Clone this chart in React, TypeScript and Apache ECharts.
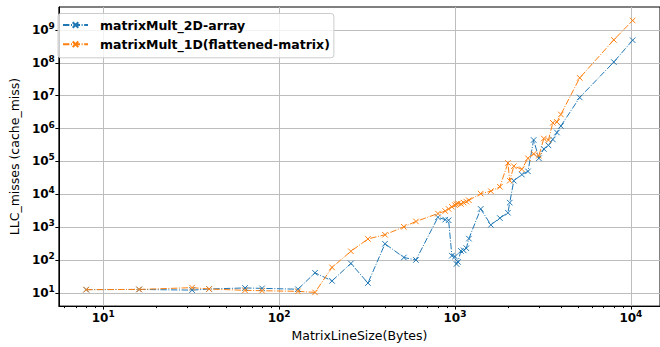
import React, { useEffect, useRef } from "react";
import * as echarts from "echarts";

const lineSizes = [8, 16, 32, 40, 64, 80, 128, 160, 200, 256, 320, 400, 512, 600, 800, 880, 920, 960, 1000, 1020, 1040, 1080, 1120, 1160, 1200, 1400, 1600, 1800, 2000, 2048, 2160, 2400, 2600, 2800, 3000, 3200, 3400, 3600, 3800, 4000, 5120, 8000, 10240];

const misses2D = [12.6, 12.8, 12.2, 13.2, 14.2, 13.8, 13, 41, 23.3, 79, 20, 313, 120, 101, 2000, 1700, 1630, 136, 128, 76, 88, 190, 198, 230, 450, 3600, 1180, 1900, 2760, 5600, 26000, 40000, 50000, 450000, 125000, 240000, 310000, 470000, 760000, 1.2e6, 8.9e6, 1.06e8, 4.9e8];

const misses1D = [12.6, 12.8, 14.5, 13.2, 12, 11.7, 11.2, 10.4, 60, 185, 440, 590, 1030, 1500, 2600, 3100, 3600, 4200, 4700, 5000, 5300, 5100, 5600, 6000, 6600, 10500, 12500, 17000, 90000, 26000, 72000, 58000, 125000, 170000, 150000, 500000, 450000, 1.5e6, 1.6e6, 2.7e6, 3.5e7, 5e8, 1.95e9];

const seriesNames = ["matrixMult_2D-array", "matrixMult_1D(flattened-matrix)"];
const xMajorTicks = [10, 100, 1000, 10000];
const yMajorTicks = [10, 100, 1e3, 1e4, 1e5, 1e6, 1e7, 1e8, 1e9];
const xMinorTicks = [6, 7, 8, 9, 20, 30, 40, 50, 60, 70, 80, 90, 200, 300, 400, 500, 600, 700, 800, 900, 2000, 3000, 4000, 5000, 6000, 7000, 8000, 9000];

const FONT = "DejaVu Sans";
const X_SYMBOL = "path://M0,0L10,10M10,0L0,10";

function powLabel(v: number) {
  const e = Math.round(Math.log10(v));
  return `{b|10}{s|${e}}`;
}

const labelRich = {
  b: { fontSize: 12, fontWeight: "bold", fontFamily: FONT, color: "#000" },
  s: { fontSize: 9, fontWeight: "bold", fontFamily: FONT, color: "#000", padding: [0, 0, 8, 0] },
};

export default function App() {
  const ref = useRef<HTMLDivElement>(null);
  useEffect(() => {
    document.body.style.margin = "0";
    const chart = echarts.init(ref.current!, null, { renderer: "svg" });
    const colors = ["#1f77b4", "#ff7f0e"];
    const mk = (name: string, vals: number[], c: string) => ({
      name,
      type: "line",
      xAxisIndex: 0,
      yAxisIndex: 0,
      data: lineSizes.map((x, i) => [x, vals[i]]),
      symbol: X_SYMBOL,
      symbolSize: 5.5,
      showSymbol: true,
      lineStyle: { color: c, width: 1, type: [6.4, 1.6, 1, 1.6] },
      itemStyle: { color: c, borderColor: c, borderWidth: 1 },
      emphasis: { disabled: true },
    });
    chart.setOption({
      animation: false,
      backgroundColor: "#fff",
      grid: { left: 51, top: 7, right: -6.5, bottom: 35.3, show: true, borderColor: "#000", borderWidth: 1, backgroundColor: "transparent" },
      legend: {
        orient: "vertical",
        left: 58,
        top: 13.5,
        itemWidth: 25,
        itemHeight: 7,
        itemGap: 4.3,
        padding: [4, 4, 6, 4],
        backgroundColor: "rgba(255,255,255,0.8)",
        borderColor: "#cccccc",
        borderWidth: 1,
        borderRadius: 3,
        textStyle: { fontSize: 12.5, lineHeight: 15, fontWeight: "bold", fontFamily: FONT, color: "#000", padding: [0, 0, 0, 7] },
        data: seriesNames,
      },
      xAxis: [
        {
          type: "log",
          logBase: 10,
          min: Math.pow(10, 0.7477),
          max: Math.pow(10, 4.1657),
          position: "bottom",
          name: "MatrixLineSize(Bytes)",
          nameLocation: "middle",
          nameGap: 17,
          nameTextStyle: { fontSize: 12.5, fontFamily: FONT, color: "#000" },
          axisLine: { show: true, lineStyle: { color: "#000", width: 1 } },
          axisTick: { show: true, length: 3.5, inside: false, lineStyle: { color: "#000" }, customValues: xMajorTicks },
          axisLabel: { show: true, margin: 3.5, formatter: powLabel, rich: labelRich, customValues: xMajorTicks },
          splitLine: { show: true, lineStyle: { color: "#bdbdbd", width: 1 } },
          minorTick: { show: false },
        },
        {
          type: "log",
          logBase: 10,
          min: Math.pow(10, 0.7477),
          max: Math.pow(10, 4.1657),
          position: "bottom",
          axisLine: { show: false },
          axisTick: { show: true, length: 2, lineStyle: { color: "#000" }, customValues: xMinorTicks },
          axisLabel: { show: false },
          splitLine: { show: false },
        },
      ],
      yAxis: {
        type: "log",
        logBase: 10,
        min: Math.pow(10, 0.6),
        max: Math.pow(10, 9.7),
        name: "LLC_misses (cache_miss)",
        nameLocation: "middle",
        nameGap: 33.5,
        nameTextStyle: { fontSize: 12.5, fontFamily: FONT, color: "#000" },
        axisLine: { show: true, lineStyle: { color: "#000", width: 1 } },
        axisTick: { show: true, length: 3.5, lineStyle: { color: "#000" }, customValues: yMajorTicks },
        axisLabel: { show: true, margin: 4, formatter: powLabel, rich: labelRich, customValues: yMajorTicks },
        splitLine: { show: true, lineStyle: { color: "#bdbdbd", width: 1 } },
      },
      series: [mk(seriesNames[0], misses2D, colors[0]), mk(seriesNames[1], misses1D, colors[1])],
    });
    return () => chart.dispose();
  }, []);
  return <div ref={ref} style={{ position: "fixed", left: 0, top: 0, width: 660, height: 347 }} />;
}
